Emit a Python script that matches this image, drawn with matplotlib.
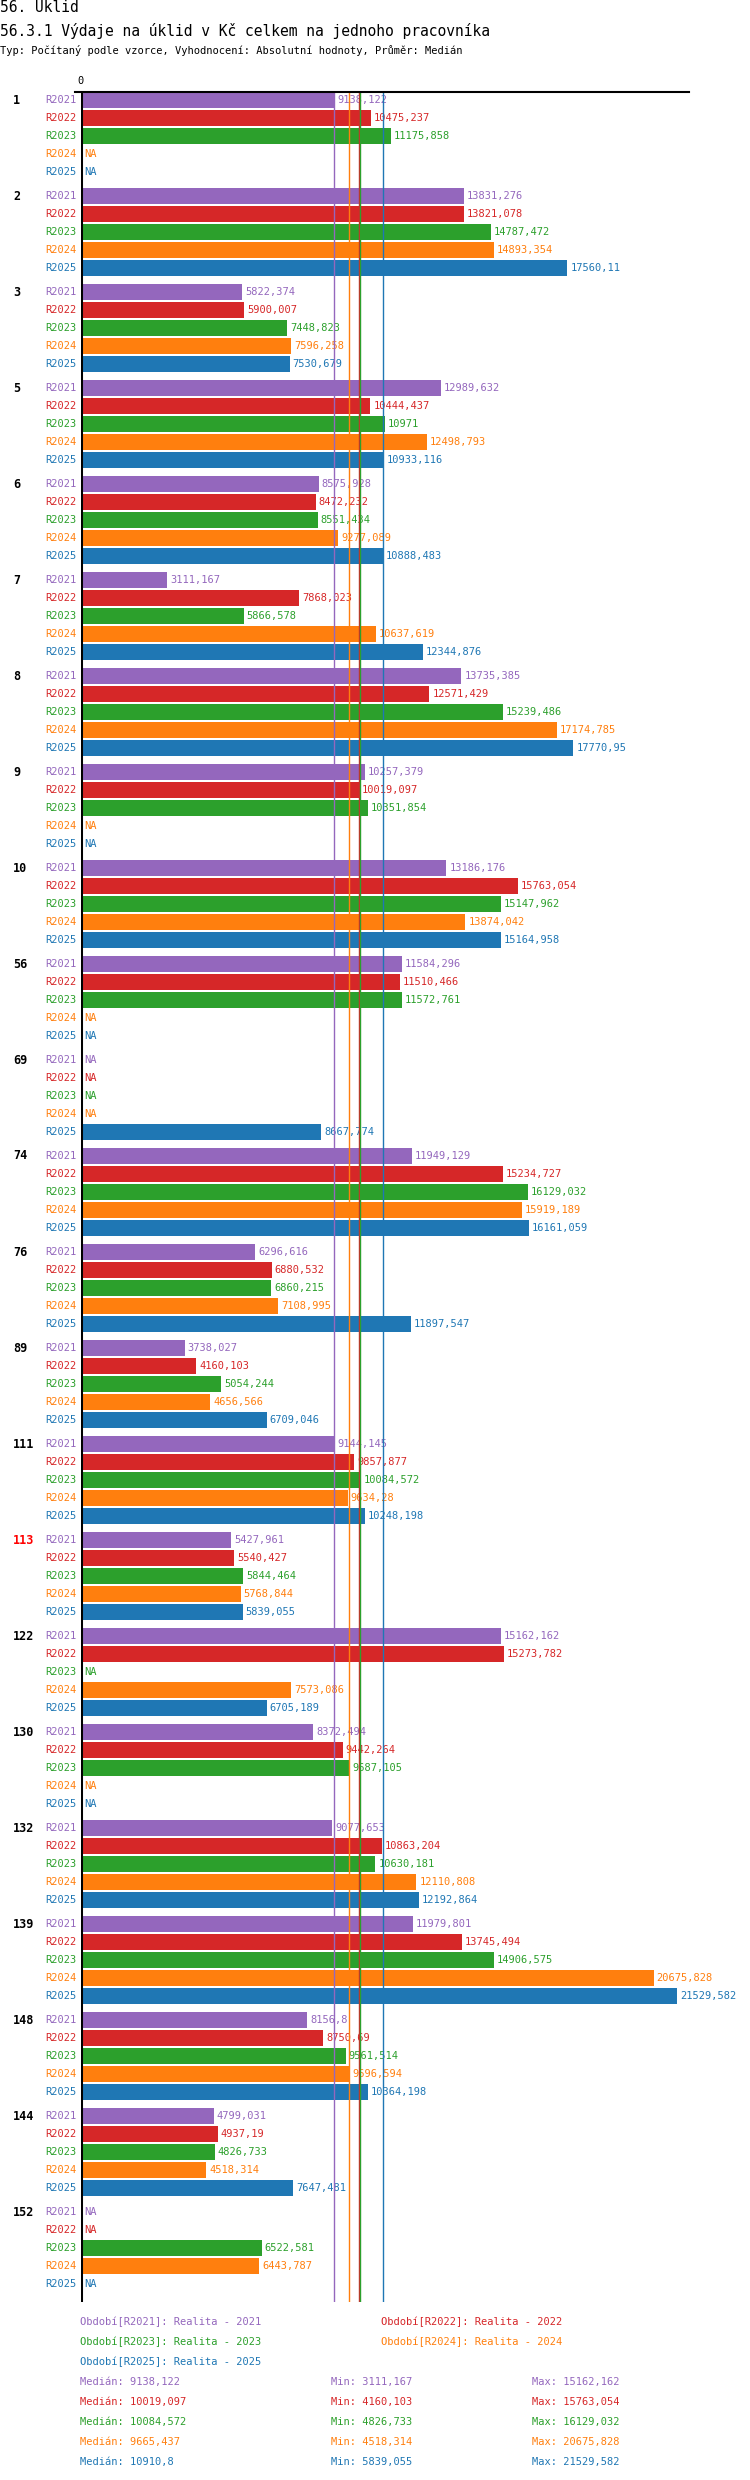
import matplotlib
matplotlib.use("Agg")
import matplotlib.pyplot as plt
import numpy as np

plt.rcParams['font.family'] = ['DejaVu Sans Mono']

groups = ["1", "2", "3", "5", "6", "7", "8", "9", "10", "56", "69", "74", "76", "89",
          "111", "113", "122", "130", "132", "139", "148", "144", "152"]
periods = ["R2021", "R2022", "R2023", "R2024", "R2025"]
colors = ["#9467bd", "#d62728", "#2ca02c", "#ff7f0e", "#1f77b4"]
nan = np.nan

r2021 = [9138.122, 13831.276, 5822.374, 12989.632, 8575.928, 3111.167, 13735.385, 10257.379,
         13186.176, 11584.296, nan, 11949.129, 6296.616, 3738.027, 9144.145, 5427.961,
         15162.162, 8372.494, 9077.653, 11979.801, 8156.8, 4799.031, nan]
r2022 = [10475.237, 13821.078, 5900.007, 10444.437, 8472.232, 7868.023, 12571.429, 10019.097,
         15763.054, 11510.466, nan, 15234.727, 6880.532, 4160.103, 9857.877, 5540.427,
         15273.782, 9442.264, 10863.204, 13745.494, 8750.69, 4937.19, nan]
r2023 = [11175.858, 14787.472, 7448.823, 10971, 8551.434, 5866.578, 15239.486, 10351.854,
         15147.962, 11572.761, nan, 16129.032, 6860.215, 5054.244, 10084.572, 5844.464,
         nan, 9687.105, 10630.181, 14906.575, 9561.514, 4826.733, 6522.581]
r2024 = [nan, 14893.354, 7596.258, 12498.793, 9277.089, 10637.619, 17174.785, nan,
         13874.042, nan, nan, 15919.189, 7108.995, 4656.566, 9634.28, 5768.844,
         7573.086, nan, 12110.808, 20675.828, 9696.594, 4518.314, 6443.787]
r2025 = [nan, 17560.11, 7530.679, 10933.116, 10888.483, 12344.876, 17770.95, nan,
         15164.958, nan, 8667.774, 16161.059, 11897.547, 6709.046, 10248.198, 5839.055,
         6705.189, nan, 12192.864, 21529.582, 10364.198, 7647.481, nan]
series = [r2021, r2022, r2023, r2024, r2025]
highlight = "113"


def fmt(v):
    s = f"{v:.3f}".rstrip('0').rstrip('.')
    return s.replace('.', ',')


W, H = 750, 2480
fig = plt.figure(figsize=(W / 100, H / 100), dpi=100)

# plot area in pixels
x0, x1, y0, y1 = 81, 689, 92, 2302
ax = fig.add_axes([x0 / W, 1 - y1 / H, (x1 - x0) / W, (y1 - y0) / H])
ax.set_xlim(0, 21950)
ax.set_ylim(y1, y0)
ax.axis('off')

fs = 7.5
for g, name in enumerate(groups):
    base = 100 + g * 96
    fig.text(13 / W, 1 - base / H, name, ha='left', va='center', fontsize=8.5,
             fontweight='bold', color='red' if name == highlight else 'black')
    for k, (vals, c) in enumerate(zip(series, colors)):
        y = base + k * 18
        fig.text(77 / W, 1 - y / H, periods[k], ha='right', va='center', fontsize=fs, color=c)
        v = vals[g]
        if np.isnan(v):
            ax.annotate("NA", (0, y), xytext=(3, 0), textcoords='offset pixels',
                        va='center', ha='left', fontsize=fs, color=c)
        else:
            ax.barh(y, v, height=16, color=c, zorder=2)
            ax.annotate(fmt(v), (v, y), xytext=(3, 0), textcoords='offset pixels',
                        va='center', ha='left', fontsize=fs, color=c)

# median lines
medians = [np.nanmedian(s) for s in series]
for m, c in zip(medians, colors):
    ax.plot([m, m], [y0, 2302], color=c, lw=1, zorder=3)

ax.plot([0, 0], [y0, 2302], color='black', lw=2.2, zorder=4)
ax.plot([-200, 21950], [y0, y0], color='black', lw=1.5, zorder=4, clip_on=False)
ax.annotate("0", (0, y0), xytext=(0, 6), textcoords='offset pixels', ha='center',
            va='bottom', fontsize=fs)

fig.text(0, 1 - 7 / H, "56. Úklid", fontsize=10.5, va='center', ha='left')
fig.text(0, 1 - 31 / H, "56.3.1 Výdaje na úklid v Kč celkem na jednoho pracovníka",
         fontsize=10.5, va='center', ha='left')
fig.text(0, 1 - 51 / H, "Typ: Počítaný podle vzorce, Vyhodnocení: Absolutní hodnoty, Průměr: Medián",
         fontsize=7.5, va='center', ha='left')

# legend
leg_pos = [(80, 2322), (381, 2322), (80, 2342), (381, 2342), (80, 2362)]
for (lx, ly), p, c in zip(leg_pos, periods, colors):
    fig.text(lx / W, 1 - ly / H, f"Období[{p}]: Realita - {p[1:]}", fontsize=fs,
             color=c, va='center', ha='left')

for k, (s, c) in enumerate(zip(series, colors)):
    ly = 2382 + k * 20
    fig.text(80 / W, 1 - ly / H, f"Medián: {fmt(np.nanmedian(s))}", fontsize=fs, color=c, va='center')
    fig.text(331 / W, 1 - ly / H, f"Min: {fmt(np.nanmin(s))}", fontsize=fs, color=c, va='center')
    fig.text(532 / W, 1 - ly / H, f"Max: {fmt(np.nanmax(s))}", fontsize=fs, color=c, va='center')

fig.savefig("out.png", dpi=100)
